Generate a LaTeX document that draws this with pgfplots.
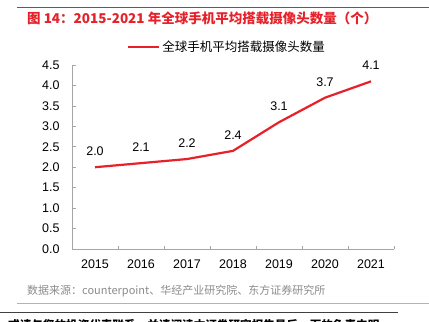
\documentclass[border=0pt]{standalone}
\usepackage{pgfplots}
\pgfplotsset{compat=1.18}
\usepackage{fontspec}
\setmainfont{Liberation Sans}
\newfontfamily\cjk{Noto Sans CJK SC}
\definecolor{lred}{HTML}{E62129}
\definecolor{srcgray}{HTML}{8C8C8C}
\definecolor{axgray}{HTML}{A6A6A6}
\definecolor{pinkline}{HTML}{EE9A9A}
\pgfplotstableread{
year val
2015 2.0
2016 2.1
2017 2.2
2018 2.4
2019 3.1
2020 3.7
2021 4.1
}\camdata
\begin{document}
\begin{tikzpicture}[x=1bp,y=1bp]
\clip (0,0) rectangle (429,322);
\fill[white] (0,0) rectangle (429,322);
\draw[lred, line width=0.8bp] (17,315) -- (429,315);
\node[anchor=west, inner sep=0pt, text=lred, font=\cjk\bfseries\fontsize{13.5bp}{16bp}\selectfont] at (27,304) {图 14：2015-2021 年全球手机平均搭载摄像头数量（个）};
\begin{axis}[
  at={(72bp,73bp)}, anchor=south west,
  scale only axis, width=322bp, height=184bp,
  xmin=2014.5, xmax=2021.5, ymin=0, ymax=4.5,
  axis x line=bottom, axis y line=left,
  axis line style={-, draw=axgray, line width=0.8bp},
  xtick={2015,2016,2017,2018,2019,2020,2021},
  xticklabels={2015,2016,2017,2018,2019,2020,2021},
  major x tick style={draw=none},
  minor xtick={2015.5,2016.5,2017.5,2018.5,2019.5,2020.5,2021.5},
  minor tick length=3bp,
  minor x tick style={draw=axgray, line width=0.6bp},
  ytick={0,0.5,...,4.5},
  major tick length=4bp,
  y tick style={draw=axgray, line width=0.6bp},
  tick align=inside,
  yticklabel style={/pgf/number format/fixed, /pgf/number format/zerofill, /pgf/number format/precision=1, xshift=-9bp},
  xticklabel style={yshift=-7bp},
  /pgf/number format/assume math mode=true,
  tick label style={font=\fontsize{12.5bp}{15bp}\selectfont, text=black},
  clip=false,
  legend style={draw=none, fill=none, at={(axis description cs:0.171,1.098)}, anchor=west, font=\cjk\fontsize{12.5bp}{15bp}\selectfont, inner sep=0pt},
  legend image code/.code={\draw[#1] (0bp,0bp) -- (31bp,0bp);},
  nodes near coords,
  nodes near coords style={font=\fontsize{12.5bp}{15bp}\selectfont, text=black, anchor=south, yshift=7bp, /pgf/number format/fixed, /pgf/number format/zerofill, /pgf/number format/precision=1},
]
\addplot[color=lred, line width=2.2bp, mark=none] table[x=year, y=val] {\camdata};
\addlegendentry{全球手机平均搭载摄像头数量}
\end{axis}
\node[anchor=west, inner sep=0pt, text=srcgray, font=\cjk\fontsize{11bp}{13bp}\selectfont] at (27,31) {数据来源：counterpoint、华经产业研究院、东方证券研究所};
\draw[pinkline, line width=0.8bp] (17,19) -- (429,19);
\draw[black!75, line width=0.8bp] (0,10) -- (398,10);
\node[anchor=west, inner sep=0pt, text=black, font=\cjk\bfseries\fontsize{11.6bp}{14bp}\selectfont] at (8,-3) {或请与您的投资代表联系。并请阅读本证券研究报告最后一页的免责申明。};
\end{tikzpicture}
\end{document}
